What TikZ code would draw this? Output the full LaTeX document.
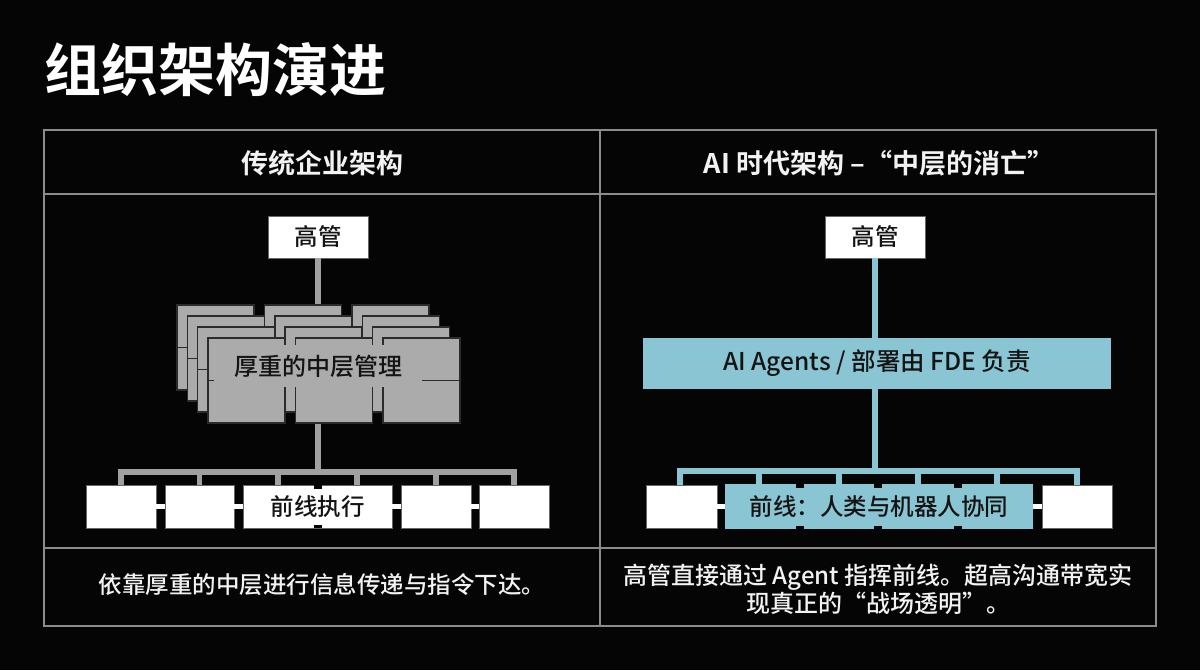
\documentclass[tikz,border=0pt]{standalone}
\usepackage{fontspec}
\setmainfont{Noto Sans CJK SC}[BoldFont={Noto Sans CJK SC Bold}]
\newfontfamily\medfont{Noto Sans CJK SC Medium}
\definecolor{bgc}{HTML}{050505}
\definecolor{tblc}{HTML}{8C8C8C}
\definecolor{glc}{HTML}{A0A0A0}
\definecolor{stackc}{HTML}{ABABAB}
\definecolor{stackd}{HTML}{2B2B2B}
\definecolor{bluec}{HTML}{8AC5D3}
\definecolor{darkt}{HTML}{141414}
\definecolor{wtext}{HTML}{F2F2F2}
\begin{document}
\begin{tikzpicture}[x=1pt,y=-1pt,
  tbl/.style={draw=tblc,line width=2},
  wbox/.style={draw=black!60,line width=0.8,fill=white,inner sep=0,text=darkt,font=\medfont\fontsize{23.5}{26}\selectfont},
  stackbox/.style={draw=stackd,line width=1.5,fill=stackc,minimum width=77,minimum height=85,inner sep=0},
  gline/.style={draw=glc,line width=5.5},
  bline/.style={draw=bluec,line width=5.5},
  link/.style={draw=white,line width=5},
  hdr/.style={text=wtext,font=\bfseries\fontsize{27}{32}\selectfont},
  captext/.style={text=wtext,font=\medfont\fontsize{23.5}{28}\selectfont,align=center},
  notch/.style={fill=bgc}
]
\fill[bgc] (0,0) rectangle (1200,670);
\useasboundingbox (0,0) rectangle (1200,670);

% title
\node[anchor=west,inner sep=0,text=white,font=\bfseries\fontsize{57}{60}\selectfont] (title) at (44,70) {组织架构演进};

% table
\draw[tbl] (44,130) rectangle (1156,626);
\draw[tbl] (44,194) -- (1156,194);
\draw[tbl] (44,548) -- (1156,548);
\draw[tbl] (600,130) -- (600,626);

\node[hdr] (hl) at (322,163) {传统企业架构};
\node[hdr] (hr) at (879,163) {AI 时代架构 –“中层的消亡”};

% ---------- left diagram ----------
\node[wbox,minimum width=100,minimum height=42] (lceo) at (318,237) {高管};
\coordinate (lbus) at (318,472);
\draw[gline] (lceo.south) -- (318,330);

\foreach \l in {0,1,2,3}{
  \foreach \c in {0,1,2}{
    \node[stackbox] (s\c\l) at ({215.5+\c*87.5+\l*10.3},{347.5+\l*11}) {};
  }
  \draw[stackd,line width=1.5] (s0\l.west) -- (s2\l.east);
}
\node[fill=stackc,text=darkt,inner sep=0,minimum width=208,minimum height=42,font=\medfont\fontsize{24}{28}\selectfont] (lmid) at (318,366) {厚重的中层管理};
\draw[gline] (lbus |- s13.south) -- (lbus);

\node[wbox,minimum width=70,minimum height=43] (lb1) at (121,506.5) {};
\node[wbox,minimum width=69,minimum height=43] (lb2) at (199.5,506.5) {};
\node[wbox,minimum width=149,minimum height=43] (lf) at (317.5,506.5) {前线执行};
\node[wbox,minimum width=70,minimum height=43] (lb4) at (436,506.5) {};
\node[wbox,minimum width=70,minimum height=43] (lb5) at (514,506.5) {};

\draw[gline,line join=miter] (lb1.north) |- (lbus) -| (lb5.north);
\foreach \x in {199.5,278,357,436}{
  \draw[gline] (\x,472) -- (\x,485);
}
\draw[link] (lb1.east) -- (lb2.west);
\draw[link] (lb2.east) -- (lf.west);
\draw[link] (lf.east) -- (lb4.west);
\draw[link] (lb4.east) -- (lb5.west);
\fill[notch] (313.5,485) rectangle (321.5,488.5);
\fill[notch] (313.5,524.5) rectangle (321.5,528);

% ---------- right diagram ----------
\node[wbox,minimum width=100,minimum height=42] (rceo) at (875,237) {高管};
\node[fill=bluec,text=darkt,inner sep=0,minimum width=468,minimum height=51,font=\medfont\fontsize{24.5}{28}\selectfont] (ragent) at (877,363.5) {AI Agents / 部署由 FDE 负责};
\coordinate (rbus) at (875,471);
\draw[bline] (rceo.south) -- (rceo.south |- ragent.north);
\draw[bline] (rceo.south |- ragent.south) -- (rbus);

\node[wbox,minimum width=71,minimum height=43] (r1) at (681.5,506.5) {};
\node[fill=bluec,text=darkt,inner sep=0,minimum width=308,minimum height=45,font=\medfont\fontsize{23.5}{26}\selectfont] (rf) at (879,506.5) {前线：人类与机器人协同};
\node[wbox,minimum width=70,minimum height=43] (r2) at (1077,506.5) {};

\draw[bline,line join=miter] (680,485) |- (rbus) -| (r2.north);
\foreach \x in {759,839,918,997}{
  \draw[bline] (\x,471) -- (\x,484);
}
\draw[link] (r1.east) -- (rf.west);
\draw[link] (rf.east) -- (r2.west);
\foreach \x in {800,878,958}{
  \fill[notch] (\x-4,484) rectangle (\x+4,487.5);
  \fill[notch] (\x-4,525.5) rectangle (\x+4,529);
}

% captions
\node[captext] (cl) at (322,585) {依靠厚重的中层进行信息传递与指令下达。};
\node[captext,font=\medfont\fontsize{24}{28}\selectfont] (cr) at (878,589) {高管直接通过 Agent 指挥前线。超高沟通带宽实\\现真正的“战场透明”。};
\end{tikzpicture}
\end{document}
